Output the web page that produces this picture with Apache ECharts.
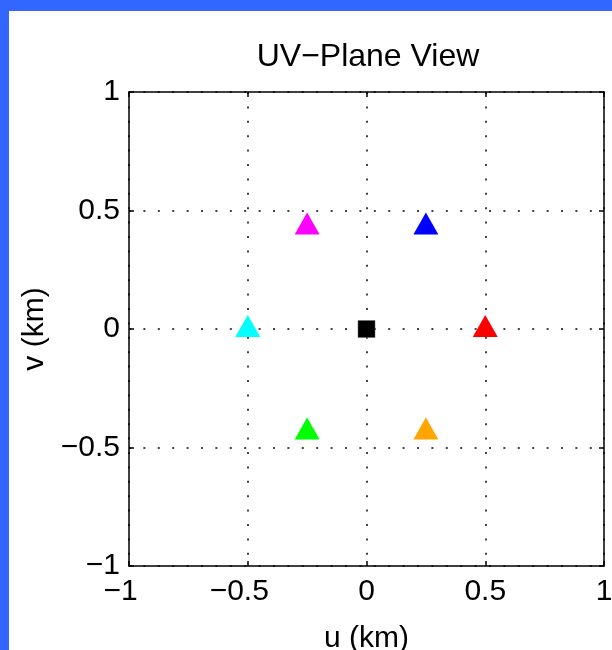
<!DOCTYPE html>
<html>
<head>
<meta charset="utf-8">
<script src="https://cdn.jsdelivr.net/npm/echarts@6/dist/echarts.min.js"></script>
<style>
  html, body { margin: 0; padding: 0; background: #3366ff; }
  #frame { position: absolute; left: 0; top: 0; width: 612px; height: 650px; background: #3366ff; overflow: hidden; }
  #chart { position: absolute; left: 9px; top: 11px; width: 603px; height: 639px; background: #ffffff; }
</style>
</head>
<body>
<div id="frame"><div id="chart"></div></div>
<script>
// ---- data ----
const chartTitle = 'UV\u2212Plane View';
const xAxisName = 'u (km)';
const yAxisName = 'v (km)';
const tickValues = [-1, -0.5, 0, 0.5, 1];
const uValues = [0.5, 0.25, -0.25, -0.5, -0.25, 0.25];
const vValues = [0, 0.433, 0.433, 0, -0.433, -0.433];
const antennaColors = ['#ff0000', '#0000ff', '#ff00ff', '#00ffff', '#00ff00', '#ffa500'];
const centerU = [0];
const centerV = [0];

// ---- chart ----
const FONT = 'Liberation Sans, Arial, Helvetica, sans-serif';
const MINUS = '\u2212';
const yFmt = v => (v < 0 ? MINUS + String(Math.abs(v)) : String(v));
// x labels: MATLAB centres the number without its minus sign
const xFmt = v => (v < 0 ? MINUS + String(Math.abs(v)) + '{sp|}' : String(v));
const gridStyle = { color: '#444444', width: 2, type: [2, 12.4] };
const boxLine = { show: true, onZero: false, lineStyle: { color: '#000', width: 1.5 } };
const inTick = { show: true, inside: true, length: 5, lineStyle: { color: '#000', width: 1.5 } };

const chart = echarts.init(document.getElementById('chart'), null, { renderer: 'canvas' });

const triangleData = uValues.map((u, i) => ({
  value: [u, vValues[i]],
  itemStyle: { color: antennaColors[i], opacity: 1 }
}));
const centerData = centerU.map((u, i) => [u, centerV[i]]);

chart.setOption({
  animation: false,
  backgroundColor: '#ffffff',
  graphic: [{
    type: 'text', x: 359, y: 46,
    style: { text: chartTitle, fontSize: 32, fontFamily: FONT, fill: '#000', textAlign: 'center', textVerticalAlign: 'middle' }
  }],
  grid: { left: 120, top: 81, width: 475, height: 474, containLabel: false, outerBoundsMode: 'none' },
  xAxis: [{
    type: 'value', position: 'bottom', min: -1, max: 1, interval: 0.5,
    axisLine: boxLine, axisTick: inTick,
    axisLabel: {
      formatter: xFmt, fontSize: 30, fontFamily: FONT, color: '#000', margin: 11,
      showMinLabel: true, showMaxLabel: true,
      rich: { sp: { width: 17, fontSize: 30 } }
    },
    splitLine: { show: true, lineStyle: gridStyle },
    name: xAxisName, nameLocation: 'middle', nameGap: 58,
    nameTextStyle: { fontSize: 30, fontFamily: FONT, color: '#000' }
  }, {
    type: 'value', position: 'top', min: -1, max: 1, interval: 0.5,
    axisLine: boxLine, axisTick: inTick, axisLabel: { show: false }, splitLine: { show: false }
  }],
  yAxis: [{
    type: 'value', position: 'left', min: -1, max: 1, interval: 0.5,
    axisLine: boxLine, axisTick: inTick,
    axisLabel: { formatter: yFmt, fontSize: 30, fontFamily: FONT, color: '#000', margin: 9, showMinLabel: true, showMaxLabel: true },
    splitLine: { show: true, lineStyle: gridStyle },
    name: yAxisName, nameLocation: 'middle', nameGap: 78,
    nameTextStyle: { fontSize: 30, fontFamily: FONT, color: '#000' }
  }, {
    type: 'value', position: 'right', min: -1, max: 1, interval: 0.5,
    axisLine: boxLine, axisTick: inTick, axisLabel: { show: false }, splitLine: { show: false }
  }],
  series: [{
    type: 'scatter', xAxisIndex: 0, yAxisIndex: 0,
    symbol: 'triangle', symbolSize: [25, 22], symbolOffset: [0, -3],
    data: triangleData, z: 5
  }, {
    type: 'scatter', xAxisIndex: 0, yAxisIndex: 0,
    symbol: 'rect', symbolSize: 17,
    itemStyle: { color: '#000000', borderColor: '#666', borderWidth: 0.5, opacity: 1 },
    data: centerData, z: 5
  }]
});
</script>
</body>
</html>
